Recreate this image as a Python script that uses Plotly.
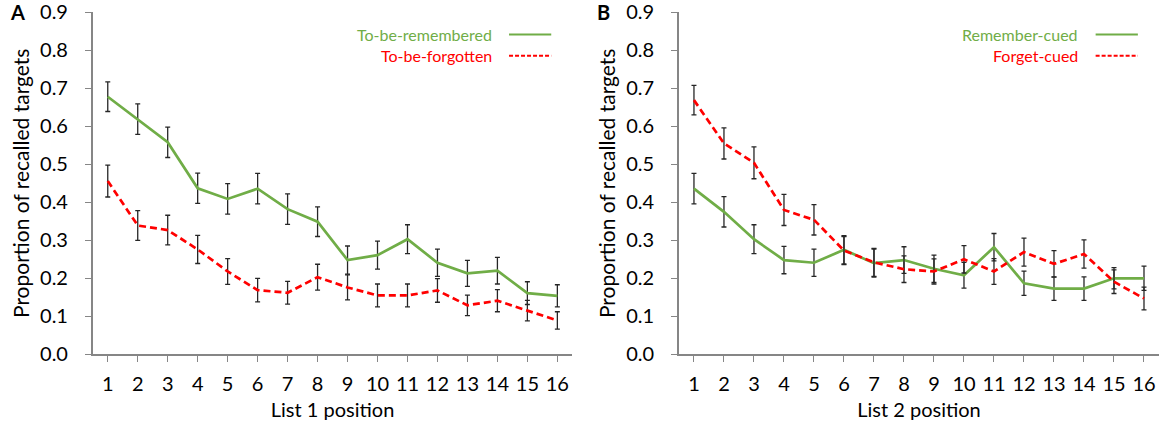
import plotly.graph_objects as go

# Serial positions within each study list
positions = list(range(1, 17))
tick_labels = [str(p) for p in positions]
y_ticks = [0.0, 0.1, 0.2, 0.3, 0.4, 0.5, 0.6, 0.7, 0.8, 0.9]

# Panel A: List 1 items
tbr_mean = [0.678, 0.619, 0.558, 0.437, 0.409, 0.436, 0.382, 0.349,
            0.248, 0.261, 0.303, 0.241, 0.213, 0.220, 0.161, 0.154]
tbr_se = [0.039, 0.040, 0.040, 0.040, 0.040, 0.040, 0.040, 0.039,
          0.037, 0.037, 0.038, 0.036, 0.034, 0.035, 0.030, 0.029]
tbf_mean = [0.456, 0.339, 0.327, 0.276, 0.218, 0.169, 0.162, 0.203,
            0.176, 0.155, 0.155, 0.168, 0.129, 0.141, 0.115, 0.089]
tbf_se = [0.042, 0.039, 0.039, 0.037, 0.034, 0.031, 0.030, 0.034,
          0.033, 0.030, 0.030, 0.031, 0.027, 0.029, 0.027, 0.023]

# Panel B: List 2 items
rc_mean = [0.436, 0.375, 0.303, 0.248, 0.241, 0.275, 0.240, 0.248,
           0.225, 0.208, 0.282, 0.187, 0.173, 0.173, 0.200, 0.200]
rc_se = [0.040, 0.040, 0.038, 0.036, 0.036, 0.037, 0.037, 0.035,
         0.036, 0.034, 0.036, 0.032, 0.031, 0.031, 0.028, 0.032]
fc_mean = [0.669, 0.555, 0.504, 0.380, 0.354, 0.273, 0.242, 0.224,
           0.218, 0.250, 0.218, 0.269, 0.238, 0.264, 0.191, 0.147]
fc_se = [0.039, 0.041, 0.042, 0.041, 0.040, 0.037, 0.037, 0.035,
         0.033, 0.036, 0.034, 0.037, 0.035, 0.037, 0.031, 0.030]

GREEN = "#70AD47"
RED = "#FF0000"
AXIS_GREY = "#868686"
BAR_COLOR = "#262626"
FONT = "Lato"

fig = go.Figure()


def add_series(x_ref, y_ref, means, errs, color, dash):
    fig.add_trace(go.Scatter(
        x=positions, y=means, mode="lines",
        line=dict(color=color, width=2.7, dash=dash),
        error_y=dict(type="data", array=errs, visible=True,
                     color=BAR_COLOR, thickness=1.3, width=2.5),
        xaxis=x_ref, yaxis=y_ref, showlegend=False,
    ))


add_series("x", "y", tbr_mean, tbr_se, GREEN, "solid")
add_series("x", "y", tbf_mean, tbf_se, RED, "7px,4px")
add_series("x2", "y2", rc_mean, rc_se, GREEN, "solid")
add_series("x2", "y2", fc_mean, fc_se, RED, "7px,4px")

y_dom = [0.1722, 0.9713]
x_common = dict(
    range=[0.5, 16.5], tickmode="array", tickvals=positions, ticktext=tick_labels,
    showline=True, linecolor=AXIS_GREY, linewidth=1.6, automargin=False,
    ticks="outside", ticklen=6, tickcolor=AXIS_GREY, tickwidth=1.3,
    showgrid=False, zeroline=False, ticklabelstandoff=5, ticklabeloverflow="allow",
    tickfont=dict(family=FONT, size=20, color="#000000"),
    title_font=dict(family=FONT, size=20, color="#000000"), title_standoff=9,
)
y_common = dict(
    range=[0, 0.9002], domain=y_dom, tickmode="array", tickvals=y_ticks,
    ticktext=[f"{v:.1f}" for v in y_ticks], automargin=False,
    showline=True, linecolor=AXIS_GREY, linewidth=1.6,
    ticks="outside", ticklen=6, tickcolor=AXIS_GREY, tickwidth=1.3,
    showgrid=False, zeroline=False, ticklabelstandoff=13, ticklabeloverflow="allow",
    tickfont=dict(family=FONT, size=20, color="#000000"),
    title_text="Proportion of recalled targets",
    title_font=dict(family=FONT, size=21, color="#000000"), title_standoff=5,
)

fig.update_layout(
    width=1164, height=428,
    margin=dict(l=0, r=0, t=0, b=0),
    paper_bgcolor="white", plot_bgcolor="white",
    xaxis=dict(domain=[0.0797, 0.4917], anchor="y", title_text="List 1 position", **x_common),
    yaxis=dict(anchor="x", **y_common),
    xaxis2=dict(domain=[0.5833, 0.9957], anchor="y2", title_text="List 2 position", **x_common),
    yaxis2=dict(anchor="x2", **y_common),
)

# Legend entries drawn as text with a line sample to the right
legend_rows = [
    ("x", "y", "To-be-remembered", GREEN, "solid", 0.935),
    ("x", "y", "To-be-forgotten", RED, "dash", 0.873),
    ("x2", "y2", "Remember-cued", GREEN, "solid", 0.935),
    ("x2", "y2", "Forget-cued", RED, "dash", 0.873),
]
for xr, yr, label, color, dash, yy in legend_rows:
    fig.add_annotation(
        xref=f"{xr} domain", yref=f"{yr} domain", x=0.836, y=yy,
        xanchor="right", yanchor="middle", text=label, showarrow=False,
        font=dict(family=FONT, size=16, color=color),
    )
    fig.add_shape(
        type="line", xref=f"{xr} domain", yref=f"{yr} domain",
        x0=0.868, x1=0.956, y0=yy, y1=yy,
        line=dict(color=color, width=2, dash="4px,2px" if dash == "dash" else "solid"),
    )

# Panel letters
for letter, xpos in (("A", 0.0065), ("B", 0.511)):
    fig.add_annotation(
        xref="paper", yref="paper", x=xpos, y=0.972, xanchor="left", yanchor="middle",
        text=f"<b>{letter}</b>", showarrow=False,
        font=dict(family=FONT, size=20, color="#000000"),
    )

fig.write_html("out.html")
